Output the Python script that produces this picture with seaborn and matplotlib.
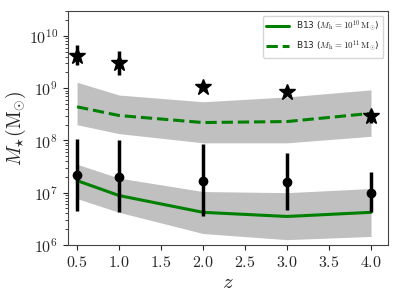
import numpy as np
import pandas as pd
import seaborn as sns
import matplotlib
matplotlib.use("Agg")
import matplotlib.pyplot as plt

# redshifts
z = [0.5, 1.0, 2.0, 3.0, 4.0]

# B13 model, M_h = 1e10
b13_lo_med = [1.7e7, 8.8e6, 4.2e6, 3.5e6, 4.2e6]
b13_lo_up = [3.5e7, 1.9e7, 1.05e7, 1.0e7, 1.2e7]
b13_lo_dn = [7.7e6, 4.2e6, 1.65e6, 1.26e6, 1.45e6]

# B13 model, M_h = 1e11
b13_hi_med = [4.4e8, 3.0e8, 2.2e8, 2.3e8, 3.3e8]
b13_hi_up = [1.3e9, 7.4e8, 5.5e8, 6.8e8, 9.3e8]
b13_hi_dn = [2.0e8, 1.35e8, 9.0e7, 9.0e7, 1.2e8]

# simulation points (circles)
circ_val = [2.2e7, 2.0e7, 1.7e7, 1.6e7, 1.0e7]
circ_up = [1.05e8, 1.0e8, 8.7e7, 5.8e7, 2.5e7]
circ_dn = [4.5e6, 4.2e6, 3.6e6, 4.7e6, 4.2e6]

# simulation points (stars)
star_val = [4.2e9, 3.0e9, 1.05e9, 8.5e8, 2.95e8]
star_up = [6.8e9, 5.1e9, 1.05e9, 8.5e8, 3.9e8]
star_dn = [2.8e9, 1.8e9, 1.05e9, 8.5e8, 2.2e8]

sns.set_style("ticks")
plt.rcParams["font.family"] = "serif"
plt.rcParams["font.serif"] = ["cmr10", "DejaVu Serif"]
plt.rcParams["mathtext.fontset"] = "cm"
plt.rcParams["axes.formatter.use_mathtext"] = True
plt.rcParams["axes.unicode_minus"] = False

df = pd.DataFrame({"z": z, "lo": b13_lo_med, "hi": b13_hi_med})

fig = plt.figure(figsize=(3.99, 2.99), dpi=100)
ax = fig.add_axes([0.17, 0.181, 0.802, 0.782])

ax.fill_between(z, b13_lo_dn, b13_lo_up, color="#c0c0c0", lw=0, zorder=1)
ax.fill_between(z, b13_hi_dn, b13_hi_up, color="#c0c0c0", lw=0, zorder=1)

sns.lineplot(data=df, x="z", y="lo", color="green", lw=2.2, ax=ax,
             label=r"B13 ($M_{\rm h}=10^{10}\,{\rm M}_{\odot}$)", zorder=2)
sns.lineplot(data=df, x="z", y="hi", color="green", lw=2.2, ls="--", ax=ax,
             label=r"B13 ($M_{\rm h}=10^{11}\,{\rm M}_{\odot}$)", zorder=2)

cv = np.array(circ_val)
ax.errorbar(z, cv, yerr=[cv - np.array(circ_dn), np.array(circ_up) - cv],
            fmt="o", color="black", ms=6, elinewidth=2.5, capsize=0, zorder=3)
sv = np.array(star_val)
ax.errorbar(z, sv, yerr=[sv - np.array(star_dn), np.array(star_up) - sv],
            fmt="*", color="black", ms=12, elinewidth=2.5, capsize=0, zorder=3)

ax.set_yscale("log")
ax.set_ylim(1e6, 3e10)
ax.set_xlim(0.39, 4.2)
ax.set_xticks([0.5, 1.0, 1.5, 2.0, 2.5, 3.0, 3.5, 4.0])
ax.set_xticklabels([f"${v:.1f}$" for v in [0.5, 1.0, 1.5, 2.0, 2.5, 3.0, 3.5, 4.0]])
ax.tick_params(labelsize=11.5)
ax.set_xlabel(r"$z$", fontsize=15, labelpad=3)
ax.set_ylabel(r"$M_{\star}({\rm M}_{\odot})$", fontsize=14)
ax.yaxis.set_label_coords(-0.125, 0.5)
for s in ax.spines.values():
    s.set_color("#444444")

leg = ax.legend(loc="upper right", prop={"family": "DejaVu Sans", "size": 6.5},
                handlelength=2.5, frameon=True)

fig.savefig("out.png", dpi=100)
